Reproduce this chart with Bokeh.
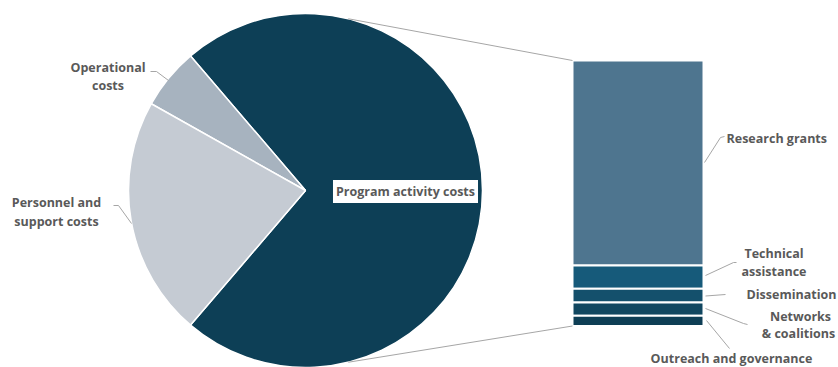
import math
from bokeh.plotting import figure
from bokeh.models import Range1d, ColumnDataSource, Label
from bokeh.core.properties import value
from bokeh.embed import file_html
from bokeh.resources import INLINE

# ---- data ----
pie_categories = ["Program activity costs", "Operational costs", "Personnel and support costs"]
pie_values = [72.5, 5.6, 21.9]
pie_colors = ["#0D3F56", "#A7B3BF", "#C5CBD3"]

bar_categories = ["Research grants", "Technical assistance", "Dissemination",
                  "Networks & coalitions", "Outreach and governance"]
bar_values = [56.0, 6.3, 3.8, 3.6, 2.8]
bar_colors = ["#4E758F", "#165A7A", "#14506C", "#114760", "#0E3E55"]

FONT = "Open Sans"
FS = "12.5px"
TXT = "#595959"
H = 367  # screen height used to flip y

p = figure(width=838, height=367, output_backend="svg", toolbar_location=None,
           x_range=Range1d(0, 838), y_range=Range1d(0, 367),
           x_axis_type=None, y_axis_type=None, min_border=0)
p.grid.visible = False
p.outline_line_color = None
p.background_fill_color = "white"

# ---- pie ----
cx, cy, r = 305, H - 190, 177
total = sum(pie_values)
angles = [v / total * 2 * math.pi for v in pie_values]
starts, ends = [], []
a = -angles[0] / 2
for ang in angles:
    starts.append(a)
    ends.append(a + ang)
    a += ang
p.wedge(x=cx, y=cy, radius=r, start_angle=starts, end_angle=ends,
        fill_color=pie_colors, line_color="white", line_width=1.5)

# ---- stacked bar ----
bx0, bx1 = 572, 703
b_bottom = H - 325.5
bar_h = 265.5
scale = bar_h / sum(bar_values)
tops, bottoms = [], []
acc = 0.0
for v in reversed(bar_values):
    bottoms.append(b_bottom + acc * scale)
    acc += v
    tops.append(b_bottom + acc * scale)
bottoms = list(reversed(bottoms))
tops = list(reversed(tops))
p.quad(left=bx0, right=bx1, bottom=bottoms, top=tops,
       fill_color=bar_colors, line_color="white", line_width=2)

# ---- connector lines pie -> bar ----
ca = math.radians(76)
p.line([cx + r * math.cos(ca), bx0], [cy + r * math.sin(ca), tops[0]],
       line_color="#A6A6A6", line_width=1)
p.line([cx + r * math.cos(ca), bx0], [cy - r * math.sin(ca), b_bottom],
       line_color="#A6A6A6", line_width=1)

# ---- leader lines (screen coords) ----
leaders = [
    [(150, 71), (156, 71), (168, 80)],
    [(113, 205), (118, 205), (131, 223)],
    [(704, 162), (720, 137), (724, 136)],
    [(705, 275), (733, 262), (736, 262)],
    [(705, 295.5), (725, 294)],
    [(705, 308), (743, 323), (747, 324)],
    [(706, 320), (729, 348)],
]
p.multi_line(xs=[[pt[0] for pt in l] for l in leaders],
             ys=[[H - pt[1] for pt in l] for l in leaders],
             line_color="#A6A6A6", line_width=1)

# ---- labels ----
lab_text = ["Operational", "costs", "Personnel and", "support costs",
            "Technical", "assistance", "Dissemination", "Networks", "& coalitions",
            "Outreach and governance"]
lab_x = [107.5, 107.5, 56, 56, 773.5, 773.5, 791, 800, 798, 731]
lab_y = [67, 85, 202, 221, 253, 271, 294, 316, 333, 358]
src = ColumnDataSource(dict(text=lab_text, x=lab_x, y=[H - y for y in lab_y]))
p.text(x="x", y="y", text="text", source=src, text_font=value(FONT),
       text_font_style="bold", text_font_size=FS, text_color=TXT,
       text_align="center", text_baseline="middle")

p.text(x=[726], y=[H - 138], text=[bar_categories[0]], text_font=value(FONT),
       text_font_style="bold", text_font_size=FS, text_color=TXT,
       text_align="left", text_baseline="middle")

p.add_layout(Label(x=405, y=H - 191, text=pie_categories[0], text_font=FONT,
                   text_font_style="bold", text_font_size=FS, text_color=TXT,
                   text_align="center", text_baseline="middle",
                   background_fill_color="white", padding=3))

open("out.html", "w").write(file_html(p, INLINE))
